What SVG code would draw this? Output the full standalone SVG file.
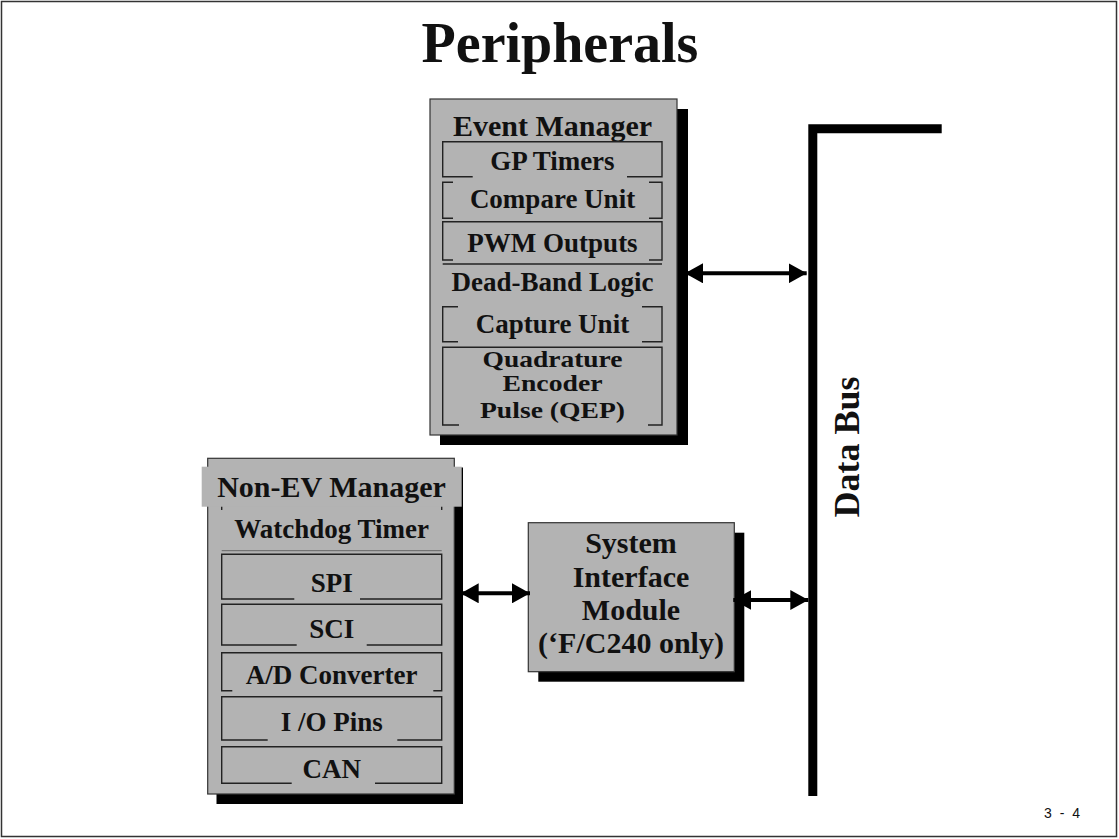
<svg xmlns="http://www.w3.org/2000/svg" width="1119" height="839" viewBox="0 0 1119 839">
  <defs>
    <style>
      .t { font-family: "Liberation Serif", "Times New Roman", serif; font-weight: bold; fill: #111; text-anchor: middle; }
      .hdr { font-size: 30px; }
      .itm { font-size: 27px; }
      .qep { font-size: 24px; }
      .box { fill: #b3b3b3; stroke: #333; stroke-width: 1.2; }
      .shadow { fill: #000; }
      .sub { fill: none; stroke: #222; stroke-width: 1.4; }
      .wire { stroke: #000; stroke-width: 4; fill: none; }
    </style>
    <marker id="head" viewBox="0 0 18 20" refX="18" refY="10" markerWidth="18" markerHeight="20" markerUnits="userSpaceOnUse" orient="auto-start-reverse">
      <path d="M0,0 L18,10 L0,20 Z" fill="#000"/>
    </marker>
  </defs>

  <!-- page frame -->
  <rect x="1.5" y="1.5" width="1115" height="835" fill="#fff" stroke="#333" stroke-width="1.5"/>

  <text class="t" x="560" y="62" font-size="56">Peripherals</text>

  <!-- Event Manager -->
  <g id="event-manager">
    <rect class="shadow" x="440" y="109" width="248" height="336"/>
    <rect class="box" x="430" y="99" width="247" height="336"/>
    <text class="t hdr" x="552.5" y="136">Event Manager</text>
    <path class="sub" d="M472.7,176.7 H442.7 V141.7 H662 V176.7 H627"/>
    <text class="t itm" x="552.5" y="170">GP Timers</text>
    <path class="sub" d="M453,182.3 H442.7 V218.3 H453 M649,182.3 H662 V218.3 H649"/>
    <text class="t itm" x="552.5" y="208">Compare Unit</text>
    <path class="sub" d="M453,260 H442.7 V221.7 H662 V260 H649"/>
    <text class="t itm" x="552.5" y="251.5">PWM Outputs</text>
    <path class="sub" d="M442.7,264 H662"/>
    <text class="t itm" x="552.5" y="291">Dead-Band Logic</text>
    <path class="sub" d="M458,306.7 H442.7 V341.7 H458 M642,306.7 H662 V341.7 H642"/>
    <text class="t itm" x="552.5" y="332.5">Capture Unit</text>
    <path class="sub" d="M459,425 H442.7 V347.3 H662 V425 H648"/>
    <text class="t qep" x="552.5" y="367" textLength="140" lengthAdjust="spacingAndGlyphs">Quadrature</text>
    <text class="t qep" x="552.5" y="391" textLength="100" lengthAdjust="spacingAndGlyphs">Encoder</text>
    <text class="t qep" x="552.5" y="418" textLength="145" lengthAdjust="spacingAndGlyphs">Pulse (QEP)</text>
  </g>

  <!-- Non-EV Manager -->
  <g id="non-ev-manager">
    <rect class="shadow" x="216.5" y="467.5" width="246.5" height="336.5"/>
    <rect class="box" x="207.7" y="458.3" width="246.6" height="335.7"/>
    <rect x="201.7" y="466.7" width="260" height="40" fill="#b3b3b3"/>
    <text class="t hdr" x="331.5" y="496.7">Non-EV Manager</text>
    <path class="sub" d="M221.7,506.7 V510 M441.7,506.7 V510"/>
    <path d="M221.7,550.7 H441.7" stroke="#666" stroke-width="1"/>
    <text class="t itm" x="331.7" y="538.3">Watchdog Timer</text>
    <path class="sub" d="M294.3,599 H221.7 V554.3 H441.7 V599 H360"/>
    <text class="t itm" x="331.7" y="591.7">SPI</text>
    <path class="sub" d="M296.7,645 H221.7 V604.3 H441.7 V645 H366.7"/>
    <text class="t itm" x="331.7" y="638">SCI</text>
    <path class="sub" d="M232.3,690.7 H221.7 V652.7 H441.7 V690.7 H433.3"/>
    <text class="t itm" x="331.7" y="684">A/D Converter</text>
    <path class="sub" d="M267.7,740 H221.7 V696.7 H441.7 V740 H397.3"/>
    <text class="t itm" x="331.7" y="730.7">I /O Pins</text>
    <path class="sub" d="M291.7,783.3 H221.7 V746.7 H441.7 V783.3 H375"/>
    <text class="t itm" x="331.7" y="778.3">CAN</text>
  </g>

  <!-- System Interface Module -->
  <g id="system-interface-module">
    <rect class="shadow" x="538.3" y="532.7" width="206" height="149"/>
    <rect class="box" x="528.3" y="522.7" width="206" height="149"/>
    <text class="t hdr" x="631" y="553.3">System</text>
    <text class="t hdr" x="631" y="586.7">Interface</text>
    <text class="t hdr" x="631" y="620">Module</text>
    <text class="t hdr" x="631" y="653.3">(‘F/C240 only)</text>
  </g>

  <!-- Data Bus -->
  <g id="data-bus">
    <path d="M812.8,796 V128.7 H941.7" stroke="#000" stroke-width="9" fill="none"/>
    <text class="t" x="859" y="447" font-size="36" transform="rotate(-90 859 447)">Data Bus</text>
  </g>

  <!-- connectors -->
  <g id="connectors">
    <line class="wire" x1="685" y1="273.3" x2="806.7" y2="273.3" marker-start="url(#head)" marker-end="url(#head)"/>
    <line class="wire" x1="460.7" y1="593.3" x2="530" y2="593.3" marker-start="url(#head)" marker-end="url(#head)"/>
    <line class="wire" x1="733.3" y1="600" x2="808.3" y2="600" marker-start="url(#head)" marker-end="url(#head)"/>
  </g>

  <text x="1044" y="818" font-family="Liberation Sans, Arial, sans-serif" font-size="14" fill="#111" textLength="36">3 - 4</text>
</svg>
